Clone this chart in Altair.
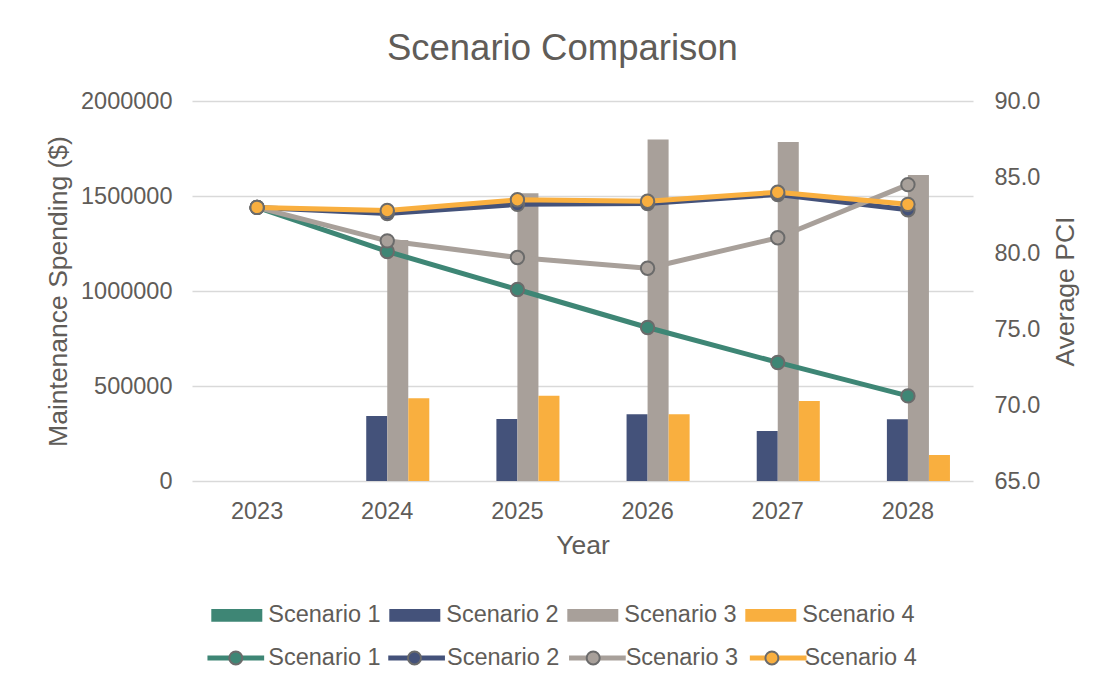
import altair as alt
import pandas as pd

years = ["2023", "2024", "2025", "2026", "2027", "2028"]
scenarios = ["Scenario 1", "Scenario 2", "Scenario 3", "Scenario 4"]
colors = ["#3e8675", "#44527a", "#a8a09a", "#f9af3f"]

# Maintenance spending ($) - bars
spend_s1 = [0, 0, 0, 0, 0, 0]
spend_s2 = [0, 342000, 326000, 351000, 263000, 325000]
spend_s3 = [0, 1268000, 1514000, 1798000, 1784000, 1611000]
spend_s4 = [0, 435000, 449000, 351000, 421000, 137000]

# Average PCI - lines
pci_s1 = [83.0, 80.1, 77.6, 75.1, 72.8, 70.6]
pci_s2 = [83.0, 82.6, 83.2, 83.25, 83.85, 82.85]
pci_s3 = [83.0, 80.8, 79.7, 79.0, 81.0, 84.5]
pci_s4 = [83.0, 82.8, 83.5, 83.4, 84.0, 83.2]

FONT = "Liberation Sans"
TXT = "#605c58"
MARKER_EDGE = "#6b6b6b"

spend = [spend_s1, spend_s2, spend_s3, spend_s4]
pci = [pci_s1, pci_s2, pci_s3, pci_s4]

bar_rows = []
for s, vals in zip(scenarios, spend):
    for y, v in zip(years, vals):
        bar_rows.append({"Year": y, "Scenario": s, "Spending": v})
bars_df = pd.DataFrame(bar_rows)

line_rows = []
for s, vals in zip(scenarios, pci):
    for y, v in zip(years, vals):
        line_rows.append({"Year": y, "Series": s, "PCI": v})
lines_df = pd.DataFrame(line_rows)

x_enc = alt.X(
    "Year:N",
    scale=alt.Scale(domain=years, paddingInner=0.354, paddingOuter=0.177),
    axis=alt.Axis(
        title="Year", labelAngle=0, labelPadding=18, titlePadding=10,
        labelFontSize=23.5, titleFontSize=26.5, domain=False, ticks=False,
    ),
)

bars = alt.Chart(bars_df).mark_bar().encode(
    x=x_enc,
    xOffset=alt.XOffset("Scenario:N", scale=alt.Scale(domain=scenarios, paddingInner=0, paddingOuter=0)),
    y=alt.Y(
        "Spending:Q",
        scale=alt.Scale(domain=[0, 2000000], nice=False),
        axis=alt.Axis(
            values=[0, 500000, 1000000, 1500000, 2000000], format="d",
            title="Maintenance Spending ($)", grid=True, gridColor="#d9d9d9", gridWidth=1.5,
            labelPadding=20, titlePadding=8, labelFontSize=23.5, titleFontSize=26.5,
            domain=False, ticks=False,
        ),
    ),
    color=alt.Color(
        "Scenario:N",
        scale=alt.Scale(range=colors),
        legend=alt.Legend(
            title=None, orient="none", legendX=19.3, legendY=488.8, direction="horizontal",
            columns=4, symbolType="M-1,-0.249H1V0.249H-1Z", symbolSize=2601,
            symbolStrokeWidth=0, labelOffset=6, columnPadding=8, labelFontSize=23.5,
            labelFont=FONT, labelColor=TXT, padding=0, labelLimit=400,
        ),
    ),
)

y_right = alt.Y(
    "PCI:Q",
    scale=alt.Scale(domain=[65, 90], nice=False, zero=False),
    axis=alt.Axis(
        orient="right", values=[65, 70, 75, 80, 85, 90], format=".1f",
        title="Average PCI", grid=False, titleAngle=270, titleBaseline="top",
        labelPadding=21, titlePadding=13, labelFontSize=23.5, titleFontSize=26.5,
        domain=False, ticks=False,
    ),
)

LEG2_X = 12.8
LEG2_Y = 525.7

# line part of the second legend row (no text of its own)
lines = alt.Chart(lines_df).mark_line(strokeWidth=5, strokeCap="round", strokeJoin="round").encode(
    x=alt.X("Year:N"),
    y=y_right,
    detail="Series:N",
    stroke=alt.Stroke(
        "Series:N",
        scale=alt.Scale(domain=scenarios, range=colors),
        legend=alt.Legend(
            title=None, orient="none", legendX=LEG2_X, legendY=LEG2_Y, direction="horizontal",
            columns=4, symbolType="M-1,0H1", symbolSize=56.7 ** 2,
            symbolStrokeWidth=5, labelOffset=0, columnPadding=102.8, labelFontSize=23.5,
            labelExpr="''", labelFont=FONT, labelColor=TXT, padding=0, zindex=1,
        ),
    ),
)

# marker part of the second legend row, carrying the labels
circles = alt.Chart(lines_df).mark_circle(size=180, opacity=1, stroke=MARKER_EDGE, strokeWidth=2).encode(
    x=alt.X("Year:N"),
    y=alt.Y("PCI:Q"),
    fill=alt.Fill(
        "Series:N",
        scale=alt.Scale(range=colors),
        legend=alt.Legend(
            title=None, orient="none", legendX=LEG2_X, legendY=LEG2_Y, direction="horizontal",
            columns=4,
            symbolType="M-1,0M1,0M0.217,0A0.217,0.217,0,1,1,-0.217,0A0.217,0.217,0,1,1,0.217,0Z",
            symbolSize=60.0 ** 2, symbolStrokeWidth=2, symbolStrokeColor=MARKER_EDGE,
            symbolOpacity=1, labelOffset=1.5, columnPadding=-0.3, labelFontSize=23.5,
            labelFont=FONT, labelColor=TXT, padding=0, labelLimit=400, zindex=2,
        ),
    ),
)

chart = alt.layer(bars, alt.layer(lines, circles)).resolve_scale(y="independent").properties(
    width=781,
    height=380,
    background="white",
    autosize=alt.AutoSizeParams(type="none"),
    padding={"left": 184, "top": 93, "right": 110, "bottom": 190},
    title=alt.TitleParams(
        "Scenario Comparison", fontSize=36.5, font=FONT, color=TXT, fontWeight="normal",
        anchor="middle", frame="bounds", offset=22,
    ),
).configure_axis(
    labelFont=FONT, titleFont=FONT, labelColor=TXT, titleColor=TXT, titleFontWeight="normal",
).configure_view(stroke=None)

chart.save("out.html", embed_options={"renderer": "svg", "actions": False})
